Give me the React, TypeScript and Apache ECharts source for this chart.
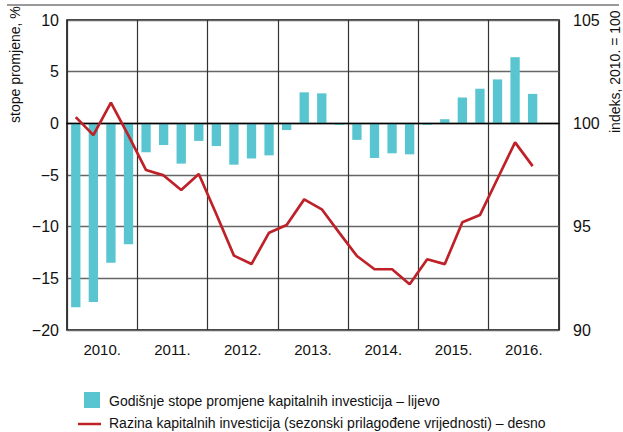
import React, { useEffect, useRef } from "react";
import * as echarts from "echarts";

const quarters = [
  "2010Q1", "2010Q2", "2010Q3", "2010Q4",
  "2011Q1", "2011Q2", "2011Q3", "2011Q4",
  "2012Q1", "2012Q2", "2012Q3", "2012Q4",
  "2013Q1", "2013Q2", "2013Q3", "2013Q4",
  "2014Q1", "2014Q2", "2014Q3", "2014Q4",
  "2015Q1", "2015Q2", "2015Q3", "2015Q4",
  "2016Q1", "2016Q2", "2016Q3", "2016Q4",
];
const years = ["2010.", "2011.", "2012.", "2013.", "2014.", "2015.", "2016."];

// Godišnje stope promjene kapitalnih investicija (%), left axis
const growthRates = [
  -17.8, -17.3, -13.5, -11.7,
  -2.8, -2.1, -3.9, -1.7,
  -2.2, -4.0, -3.4, -3.1,
  -0.65, 3.0, 2.9, -0.15,
  -1.6, -3.35, -2.9, -3.0,
  -0.15, 0.4, 2.5, 3.35,
  4.25, 6.4, 2.85, null,
];

// Razina kapitalnih investicija (indeks, 2010. = 100), right axis
const investmentLevel = [
  100.3, 99.43, 101.0, 99.4,
  97.74, 97.48, 96.77, 97.55,
  95.6, 93.6, 93.19, 94.71,
  95.08, 96.32, 95.84, 94.7,
  93.58, 92.94, 92.94, 92.21,
  93.42, 93.19, 95.21, 95.56,
  97.32, 99.08, 97.93, null,
];

const legendBars = "Godišnje stope promjene kapitalnih investicija – lijevo";
const legendLine = "Razina kapitalnih investicija (sezonski prilagođene vrijednosti) – desno";
const leftAxisName = "stope promjene, %";
const rightAxisName = "indeks, 2010. = 100";

const FONT = "'Liberation Sans', Arial, sans-serif";
const BAR_COLOR = "#58c5d0";
const LINE_COLOR = "#be2127";

export default function App() {
  const ref = useRef<HTMLDivElement>(null);

  useEffect(() => {
    if (!ref.current) return;
    const chart = echarts.init(ref.current, undefined, { renderer: "svg" });
    const minus = (v: number) => String(v).replace("-", "\u2212");

    chart.setOption({
      animation: false,
      backgroundColor: "#ffffff",
      textStyle: { fontFamily: FONT },
      grid: {
        left: 67,
        right: 64,
        top: 20,
        bottom: 102,
        show: true,
        borderColor: "#000",
        borderWidth: 1.5,
        backgroundColor: "transparent",
      },
      xAxis: [
        {
          type: "category",
          data: quarters,
          position: "bottom",
          z: 5,
          axisLine: { show: true, onZero: true, lineStyle: { color: "#000", width: 1.3 } },
          axisTick: { show: false },
          axisLabel: { show: false },
          splitLine: { show: false },
        },
        {
          type: "category",
          data: years,
          position: "bottom",
          boundaryGap: true,
          axisLine: { show: false, onZero: false },
          axisTick: { show: false },
          axisLabel: {
            show: true,
            interval: 0,
            margin: 12,
            color: "#111",
            fontSize: 15,
            fontFamily: FONT,
          },
          splitLine: { show: true, interval: 0, lineStyle: { color: "#333", width: 1.2 } },
        },
      ],
      yAxis: [
        {
          type: "value",
          min: -20,
          max: 10,
          interval: 5,
          position: "left",
          axisLine: { show: false },
          axisTick: { show: false },
          axisLabel: {
            margin: 8,
            color: "#111",
            fontSize: 16,
            fontFamily: FONT,
            formatter: minus,
          },
          splitLine: { show: true, lineStyle: { color: "#666", width: 1.3 } },
        },
        {
          type: "value",
          min: 90,
          max: 105,
          interval: 5,
          position: "right",
          axisLine: { show: false },
          axisTick: { show: false },
          axisLabel: {
            margin: 14,
            color: "#111",
            fontSize: 16,
            fontFamily: FONT,
          },
          splitLine: { show: false },
        },
      ],
      series: [
        {
          name: legendBars,
          type: "bar",
          xAxisIndex: 0,
          yAxisIndex: 0,
          data: growthRates,
          barWidth: "53%",
          itemStyle: { color: BAR_COLOR },
          z: 2,
        },
        {
          name: legendLine,
          type: "line",
          xAxisIndex: 0,
          yAxisIndex: 1,
          data: investmentLevel,
          symbol: "none",
          lineStyle: { color: LINE_COLOR, width: 2.7 },
          z: 6,
        },
      ],
      graphic: [
        {
          type: "line",
          shape: { x1: 7, y1: 5, x2: 619, y2: 5 },
          style: { stroke: "#777", lineWidth: 1.6 },
        },
        {
          type: "text",
          x: 14.5,
          y: 123,
          rotation: Math.PI / 2,
          style: {
            text: leftAxisName,
            fontSize: 14,
            fontFamily: FONT,
            fill: "#111",
            textAlign: "left",
            textVerticalAlign: "middle",
          },
        },
        {
          type: "text",
          x: 615,
          y: 133,
          rotation: Math.PI / 2,
          style: {
            text: rightAxisName,
            fontSize: 14,
            fontFamily: FONT,
            fill: "#111",
            textAlign: "left",
            textVerticalAlign: "middle",
          },
        },
        {
          type: "rect",
          shape: { x: 84, y: 392, width: 16, height: 16 },
          style: { fill: BAR_COLOR },
        },
        {
          type: "text",
          x: 109,
          y: 401,
          style: {
            text: legendBars,
            fontSize: 14,
            fontFamily: FONT,
            fill: "#111",
            textAlign: "left",
            textVerticalAlign: "middle",
          },
        },
        {
          type: "line",
          shape: { x1: 78, y1: 424, x2: 101, y2: 424 },
          style: { stroke: LINE_COLOR, lineWidth: 2.5 },
        },
        {
          type: "text",
          x: 109,
          y: 423,
          style: {
            text: legendLine,
            fontSize: 14,
            fontFamily: FONT,
            fill: "#111",
            textAlign: "left",
            textVerticalAlign: "middle",
          },
        },
      ],
    });

    return () => chart.dispose();
  }, []);

  return (
    <div
      ref={ref}
      style={{ position: "fixed", left: 0, top: 0, width: 623, height: 432 }}
    />
  );
}
